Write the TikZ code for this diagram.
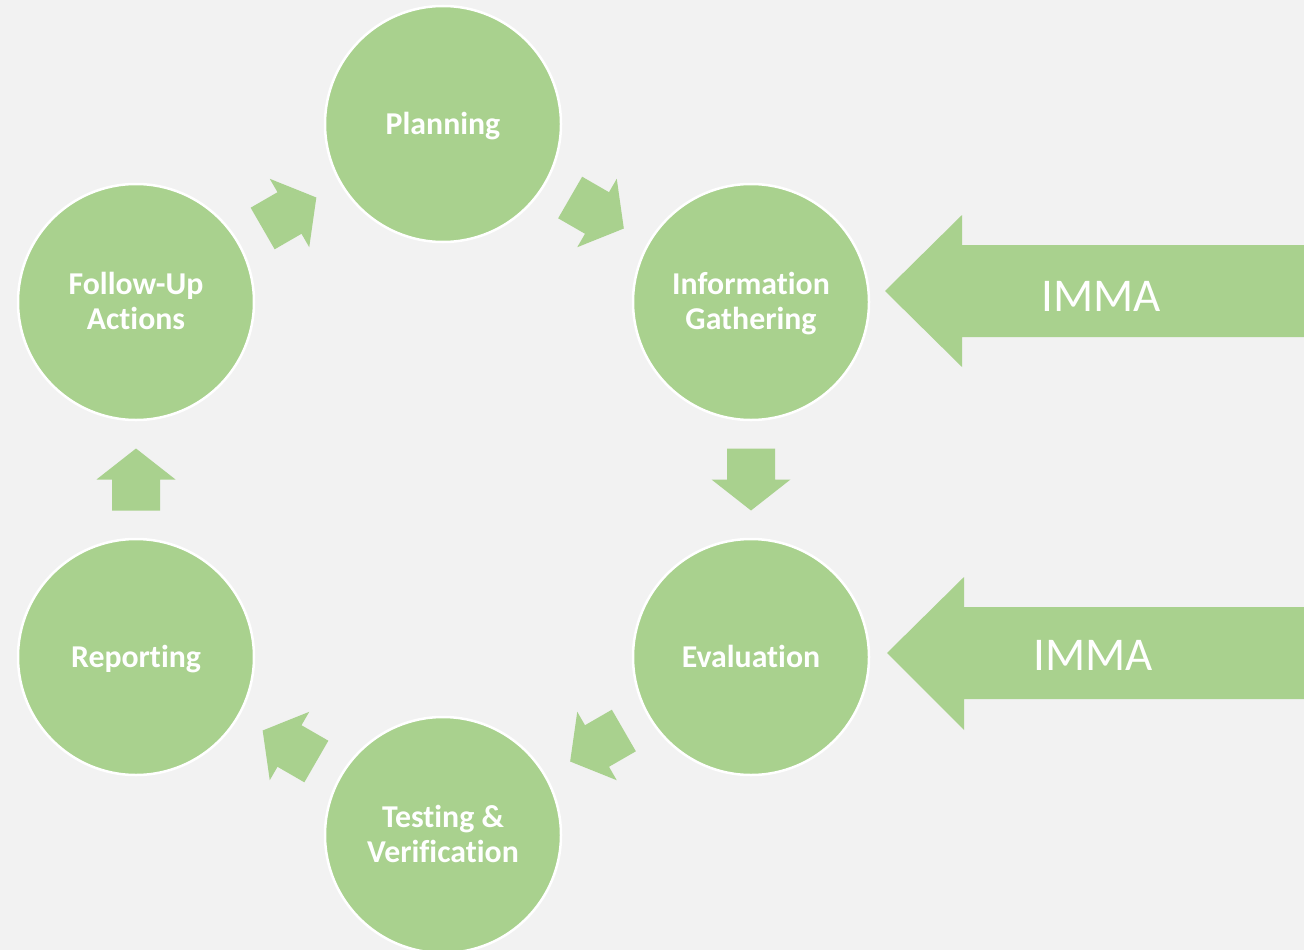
\documentclass[tikz,border=0pt]{standalone}
\usepackage{fontspec}
\setmainfont[Ligatures=NoCommon]{Carlito}
\usetikzlibrary{calc}
\definecolor{bgray}{HTML}{F2F2F2}
\definecolor{leaf}{HTML}{A9D18E}
% equal height and depth for every label line, so labels centre on their caps
\newcommand\linestrut{\rule[-7pt]{0pt}{34pt}}
\tikzset{
  stage/.style={circle, fill=leaf, draw=white, line width=2.5pt,
    minimum size=236pt, inner sep=0pt},
  stagetext/.style={text=white, align=center, inner sep=0pt,
    font=\fontsize{31.8pt}{35pt}\selectfont\bfseries},
  pics/flowarrow/.style={code={
    \fill[leaf] (-31,-24) -- (0,-24) -- (0,-39.5) -- (31,0) -- (0,39.5)
      -- (0,24) -- (-31,24) -- cycle;}},
  inputlabel/.style={text=white, inner sep=0pt,
    font=\fontsize{47pt}{50pt}\selectfont}
}
\begin{document}
\begin{tikzpicture}[x=1pt, y=-1pt]
  \fill[bgray] (0,0) rectangle (1304,950);
  \useasboundingbox (0,0) rectangle (1304,950);
  \clip (0,0) rectangle (1304,950);

  % the six stages of the cycle
  \node[stage, label={[stagetext]center:\linestrut Planning}] (plan) at (443,124) {};
  \node[stage, label={[stagetext]center:\linestrut Information\\\linestrut Gathering}] (info) at (751,302) {};
  \node[stage, label={[stagetext]center:\linestrut Evaluation}] (eval) at (751,657) {};
  \node[stage, label={[stagetext]center:\linestrut Testing \&\\\linestrut Verification}] (test) at (443,835) {};
  \node[stage, label={[stagetext]center:\linestrut Reporting}] (rep) at (136,657) {};
  \node[stage, label={[stagetext]center:\linestrut Follow-Up\\\linestrut Actions}] (fu) at (136,302) {};

  % block arrows halfway between consecutive stages
  \pic[rotate=30]  at ($(fu)!0.5!(plan)$)   {flowarrow};
  \pic[rotate=-30] at ($(plan)!0.5!(info)$) {flowarrow};
  \pic[rotate=-90] at ($(info)!0.5!(eval)$) {flowarrow};
  \pic[rotate=210] at ($(eval)!0.5!(test)$) {flowarrow};
  \pic[rotate=150] at ($(test)!0.5!(rep)$)  {flowarrow};
  \pic[rotate=90]  at ($(rep)!0.5!(fu)$)    {flowarrow};

  % external IMMA inputs
  \fill[leaf] (885,291) -- (962,215) -- (962,245) -- (1304,245)
    -- (1304,337) -- (962,337) -- (962,367) -- cycle;
  \node[inputlabel] (imma1) at (1101,296) {IMMA};

  \fill[leaf] (887,653) -- (964,577) -- (964,607) -- (1304,607)
    -- (1304,699) -- (964,699) -- (964,730) -- cycle;
  \node[inputlabel] (imma2) at (1093,655) {IMMA};
\end{tikzpicture}
\end{document}
